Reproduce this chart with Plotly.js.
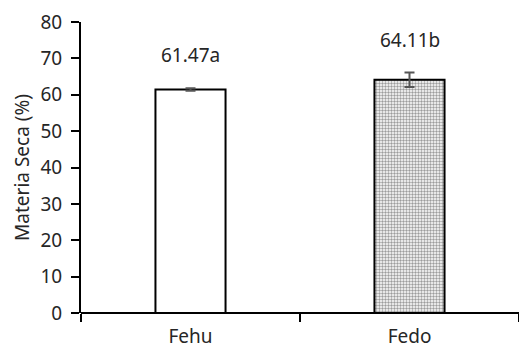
<!DOCTYPE html>
<html>
<head>
<meta charset="utf-8">
<script src="https://cdn.plot.ly/plotly-3.0.1.min.js"></script>
<style>html,body{margin:0;padding:0;background:#fff;}#chart{width:519px;height:353px;}</style>
</head>
<body>
<div id="chart"></div>
<script>
const categories = ["Fehu", "Fedo"];
const values = [61.47, 64.11];
const errors = [0.35, 2.0];
const labels = ["61.47a", "64.11b"];
const yTicks = [0, 10, 20, 30, 40, 50, 60, 70, 80];

const font = "Noto Sans, Open Sans, sans-serif";
const txt = "#262626";

const traces = [
  {
    type: "bar",
    x: [categories[0]],
    y: [values[0]],
    width: 0.32,
    marker: {color: "#ffffff", line: {color: "#000000", width: 2}},
    error_y: {type: "data", array: [errors[0]], visible: true, color: "#555555", thickness: 2, width: 5}
  },
  {
    type: "bar",
    x: [categories[1]],
    y: [values[1]],
    width: 0.32,
    marker: {
      color: "#ffffff",
      line: {color: "#000000", width: 2},
      pattern: {shape: ".", size: 3, solidity: 0.5, fgcolor: "#3a3a3a", bgcolor: "#ffffff", fillmode: "overlay"}
    },
    error_y: {type: "data", array: [errors[1]], visible: true, color: "#555555", thickness: 2, width: 5}
  }
];

const annotations = categories.map((c, i) => ({
  x: c, y: values[i] + errors[i], xref: "x", yref: "y",
  text: labels[i], showarrow: false, yshift: 33,
  font: {family: font, size: 19, color: txt}
}));

const layout = {
  width: 519, height: 353,
  margin: {l: 81, r: 0, t: 22, b: 40, pad: 0},
  paper_bgcolor: "#ffffff", plot_bgcolor: "#ffffff",
  showlegend: false,
  barmode: "group",
  font: {family: font, size: 19, color: txt},
  xaxis: {
    type: "category",
    categoryarray: categories,
    range: [-0.5, 1.5],
    showline: false,
    ticks: "outside", tickson: "boundaries", ticklen: 8, tickwidth: 2, tickcolor: "#000000",
    ticklabelstandoff: 10,
    showgrid: false, zeroline: false,
    tickfont: {family: font, size: 19, color: txt}
  },
  yaxis: {
    range: [0, 80],
    tickvals: yTicks,
    ticktext: yTicks.map(String),
    showline: true, linecolor: "#000000", linewidth: 2,
    ticks: "outside", ticklen: 8, tickwidth: 2, tickcolor: "#000000",
    ticklabelstandoff: 5,
    showgrid: false, zeroline: true, zerolinecolor: "#000000", zerolinewidth: 2,
    tickfont: {family: font, size: 19, color: txt},
    title: {text: "Materia Seca (%)", font: {family: font, size: 19, color: txt}, standoff: 6}
  },
  annotations: annotations
};

Plotly.newPlot("chart", traces, layout, {staticPlot: true, displayModeBar: false});
</script>
</body>
</html>
